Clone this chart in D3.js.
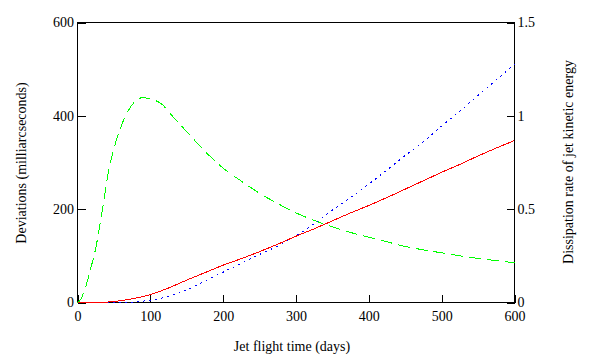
<!DOCTYPE html>
<meta charset="utf-8">
<title>Jet deviations</title>
<style>

body {
  margin: 0;
  background: #fff;
}

svg {
  font: 14px "Liberation Serif", "Times New Roman", serif;
}

.axis path {
  display: none;
}

.axis line {
  stroke: #000;
  shape-rendering: crispEdges;
}

.axis text {
  fill: #000;
  font: 14px "Liberation Serif", "Times New Roman", serif;
}

.curve {
  fill: none;
  stroke-width: 1;
  shape-rendering: crispEdges;
}

</style>
<body>
<script src="https://d3js.org/d3.v7.min.js"></script>
<script>

// days sampled for the two deviation curves
var days = [0, 25, 50, 75, 100, 125, 150, 175, 200, 225, 250, 275, 300,
            325, 350, 375, 400, 425, 450, 475, 500, 525, 550, 575, 600];

// red, solid (milliarcseconds)
var devSolid = [0, 0, 2, 8, 17, 31, 48, 64, 80, 94, 109, 125, 142,
                158, 175, 192, 208, 225, 243, 261, 279, 296, 314, 331, 347];

// blue, dotted (milliarcseconds)
var devDotted = [0, 0, 0.5, 1, 5, 13, 27, 46, 65, 84, 103, 121, 143,
                 169, 198, 225, 254, 284, 315, 345, 378, 410, 444, 477, 511];

// green, dashed: dissipation rate (right axis)
var dissDays = [0, 5, 10, 15, 20, 25, 30, 35, 40, 45, 50, 55, 60, 70, 80, 90, 100,
                115, 130, 150, 175, 200, 225, 250, 275, 300, 325, 350, 375, 400,
                425, 450, 475, 500, 525, 550, 575, 600];
var dissRate = [0, 0.02, 0.07, 0.135, 0.21, 0.29, 0.40, 0.515, 0.645, 0.745, 0.825, 0.89, 0.945,
                1.03, 1.08, 1.098, 1.09, 1.065, 1.0, 0.915, 0.81, 0.72, 0.65, 0.585, 0.53, 0.48,
                0.44, 0.405, 0.375, 0.35, 0.325, 0.30, 0.282, 0.266, 0.25, 0.236, 0.224, 0.213];

var xTicks = [0, 100, 200, 300, 400, 500, 600];
var yLeftTicks = [0, 200, 400, 600];
var yRightTicks = [0, 0.5, 1, 1.5];

var margin = {top: 22.5, left: 77.5, right: 514.5, bottom: 302.5};

var x = d3.scaleLinear().domain([0, 600]).range([margin.left, margin.right]);
var yL = d3.scaleLinear().domain([0, 600]).range([margin.bottom, margin.top]);
var yR = d3.scaleLinear().domain([0, 1.5]).range([margin.bottom, margin.top]);

var svg = d3.select("body").append("svg")
    .attr("width", 589)
    .attr("height", 362);

svg.append("rect")
    .attr("x", margin.left)
    .attr("y", margin.top)
    .attr("width", margin.right - margin.left)
    .attr("height", margin.bottom - margin.top)
    .attr("fill", "none")
    .attr("stroke", "#000")
    .attr("shape-rendering", "crispEdges");

svg.append("g")
    .attr("class", "axis")
    .attr("transform", "translate(0," + margin.bottom + ")")
    .call(d3.axisBottom(x).tickValues(xTicks).tickFormat(d3.format("d"))
      .tickSizeInner(-8).tickSizeOuter(0).tickPadding(8.5));

svg.append("g")
    .attr("class", "axis")
    .attr("transform", "translate(" + margin.left + ",0)")
    .call(d3.axisLeft(yL).tickValues(yLeftTicks).tickFormat(d3.format("d"))
      .tickSizeInner(-8).tickSizeOuter(0).tickPadding(3.5));

svg.append("g")
    .attr("class", "axis")
    .attr("transform", "translate(" + margin.right + ",0)")
    .call(d3.axisRight(yR).tickValues(yRightTicks).tickFormat(d3.format("~g"))
      .tickSizeInner(-8).tickSizeOuter(0).tickPadding(3));

var lineL = d3.line()
    .x(function(d) { return x(d[0]); })
    .y(function(d) { return yL(d[1]); })
    .curve(d3.curveMonotoneX);

var lineR = d3.line()
    .x(function(d) { return x(d[0]); })
    .y(function(d) { return yR(d[1]); })
    .curve(d3.curveMonotoneX);

svg.append("path")
    .datum(dissDays.map(function(d, i) { return [d, dissRate[i]]; }))
    .attr("class", "curve")
    .attr("stroke", "#00ff00")
    .attr("stroke-dasharray", "12,6")
    .attr("d", lineR);

svg.append("path")
    .datum(days.map(function(d, i) { return [d, devDotted[i]]; }))
    .attr("class", "curve")
    .attr("stroke", "#0000ff")
    .attr("stroke-dasharray", "2,4")
    .attr("d", lineL);

svg.append("path")
    .datum(days.map(function(d, i) { return [d, devSolid[i]]; }))
    .attr("class", "curve")
    .attr("stroke", "#ff0000")
    .attr("d", lineL);

// axis titles
svg.append("text")
    .attr("x", 292)
    .attr("y", 351)
    .attr("text-anchor", "middle")
    .text("Jet flight time (days)");

svg.append("text")
    .attr("transform", "translate(26,163) rotate(-90)")
    .attr("text-anchor", "middle")
    .text("Deviations (milliarcseconds)");

svg.append("text")
    .attr("transform", "translate(573,162) rotate(-90)")
    .attr("text-anchor", "middle")
    .text("Dissipation rate of jet kinetic energy");

</script>
</body>
